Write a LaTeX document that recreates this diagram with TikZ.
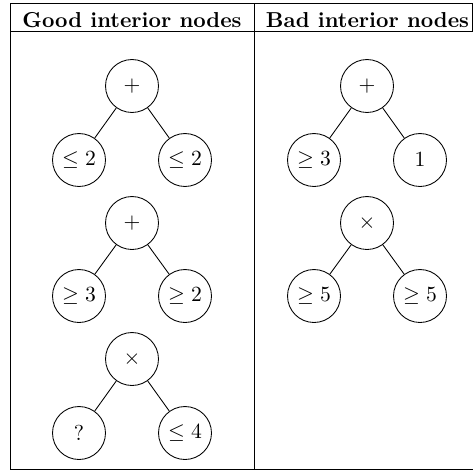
\documentclass[tikz,border=0pt]{standalone}
\begin{document}
\begin{tikzpicture}[x=0.4625pt,y=-0.4625pt,
  tnode/.style={circle,draw,line width=0.4pt,minimum size=24.5pt,inner sep=1pt},
  tedge/.style={line width=0.4pt},
  rule/.style={line width=0.4pt},
  head/.style={anchor=base,inner sep=0pt,font=\bfseries}]
\useasboundingbox (0,0) rectangle (473,470);
% table frame
\coordinate (tl) at (10.5,3.5);
\coordinate (tr) at (472.3,3.5);
\coordinate (hl) at (10.5,31.5);
\coordinate (hr) at (472.3,31.5);
\coordinate (hre) at (473,31.5);
\coordinate (bl) at (10.5,469);
\coordinate (br) at (473,469);
\coordinate (mt) at (254,3.5);
\coordinate (mb) at (254,469);
\draw[rule] (hr) -- (tr) -- (tl) -- (bl) -- (br);
\draw[rule] (hl) -- (hre);
\draw[rule] (mt) -- (mb);
\node[head] (h1) at (132,27) {Good interior nodes};
\node[head] (h2) at (367.5,27) {Bad interior nodes};
% left column
\node[tnode] (a1) at (132,86) {$+$};
\node[tnode] (a1l) at (79,160) {$\leq 2$};
\node[tnode] (a1r) at (185,160) {$\leq 2$};
\node[tnode] (a2) at (132,223) {$+$};
\node[tnode] (a2l) at (79,296) {$\geq 3$};
\node[tnode] (a2r) at (185,296) {$\geq 2$};
\node[tnode] (a3) at (132,359) {$\times$};
\node[tnode] (a3l) at (79,433) {$?$};
\node[tnode] (a3r) at (185,433) {$\leq 4$};
% right column
\node[tnode] (b1) at (367,86) {$+$};
\node[tnode] (b1l) at (314,160) {$\geq 3$};
\node[tnode] (b1r) at (420,160) {$1$};
\node[tnode] (b2) at (367,223) {$\times$};
\node[tnode] (b2l) at (314,296) {$\geq 5$};
\node[tnode] (b2r) at (420,296) {$\geq 5$};
\foreach \p in {a1,a2,a3,b1,b2}{
  \draw[tedge] (\p) -- (\p l);
  \draw[tedge] (\p) -- (\p r);
}
\end{tikzpicture}
\end{document}
